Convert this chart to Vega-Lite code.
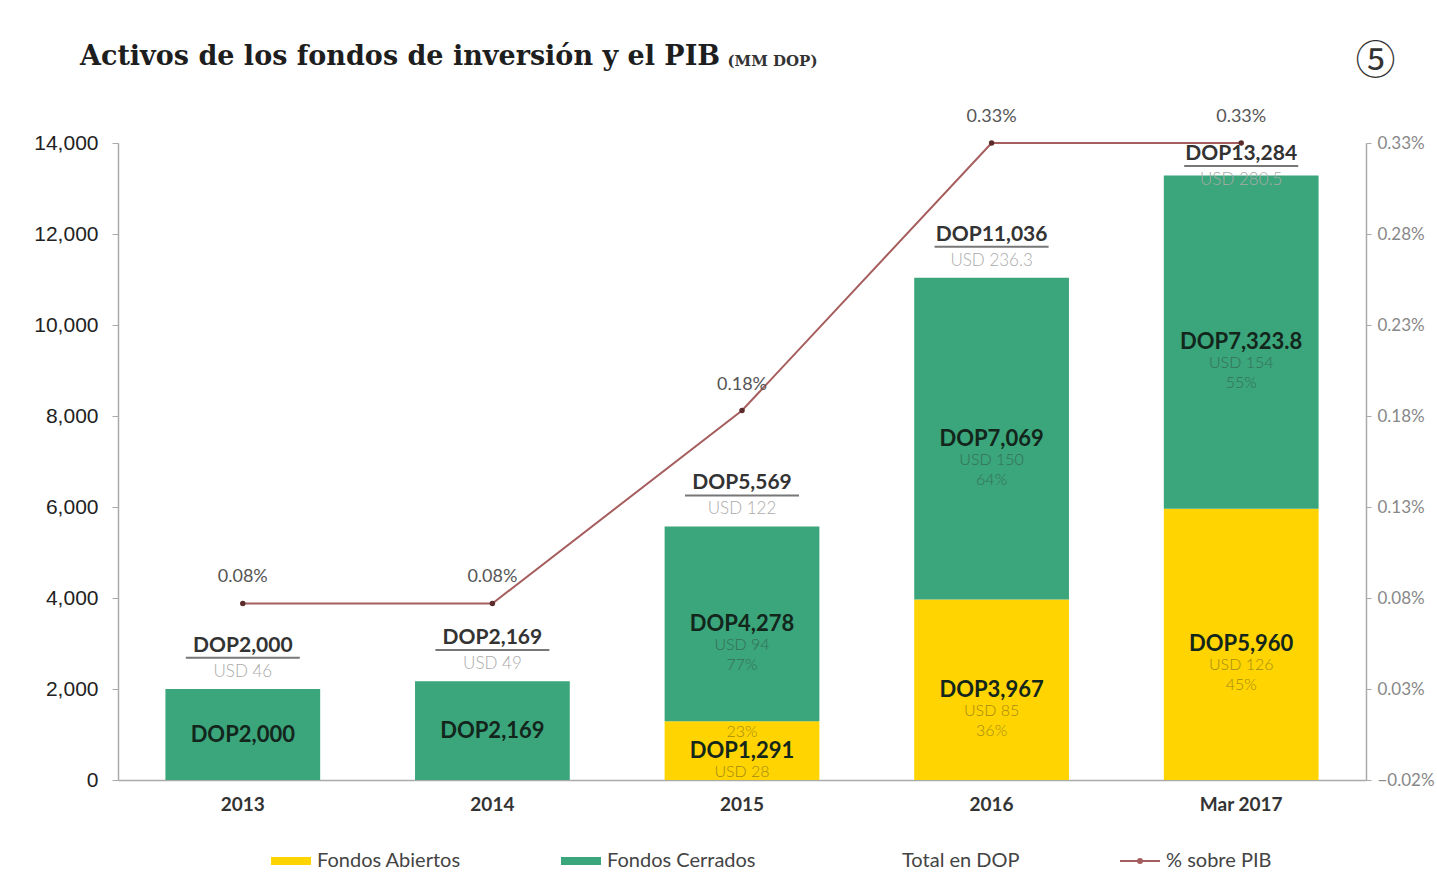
{
  "$schema": "https://vega.github.io/schema/vega-lite/v6.json",
  "width": 1248,
  "height": 637,
  "autosize": {"type": "none"},
  "padding": {"left": 118, "top": 143, "right": 71, "bottom": 108},
  "background": "white",
  "config": {"view": {"stroke": null}, "font": "Lato"},
  "title": {
    "text": "Activos de los fondos de inversión y el PIB",
    "font": "DejaVu Serif",
    "fontWeight": "bold",
    "fontSize": 27,
    "color": "#1e1e1e",
    "anchor": "start",
    "frame": "group",
    "dx": -38,
    "offset": -30
  },
  "datasets": {
    "segments": [
      {"year": "2013", "segment": "Fondos Cerrados", "value": 2000, "usd": null, "share": null},
      {"year": "2014", "segment": "Fondos Cerrados", "value": 2169, "usd": null, "share": null},
      {"year": "2015", "segment": "Fondos Abiertos", "value": 1291, "usd": 28, "share": 23},
      {"year": "2015", "segment": "Fondos Cerrados", "value": 4278, "usd": 94, "share": 77},
      {"year": "2016", "segment": "Fondos Abiertos", "value": 3967, "usd": 85, "share": 36},
      {"year": "2016", "segment": "Fondos Cerrados", "value": 7069, "usd": 150, "share": 64},
      {"year": "Mar 2017", "segment": "Fondos Abiertos", "value": 5960, "usd": 126, "share": 45},
      {"year": "Mar 2017", "segment": "Fondos Cerrados", "value": 7323.8, "usd": 154, "share": 55}
    ],
    "totals": [
      {"year": "2013", "total": 2000, "usd": "46", "pib": 0.077, "pibLabel": "0.08%"},
      {"year": "2014", "total": 2169, "usd": "49", "pib": 0.077, "pibLabel": "0.08%"},
      {"year": "2015", "total": 5569, "usd": "122", "pib": 0.183, "pibLabel": "0.18%"},
      {"year": "2016", "total": 11036, "usd": "236.3", "pib": 0.33, "pibLabel": "0.33%"},
      {"year": "Mar 2017", "total": 13284, "usd": "280.5", "pib": 0.33, "pibLabel": "0.33%"}
    ]
  },
  "encoding": {
    "x": {
      "field": "year",
      "type": "nominal",
      "scale": {"domain": ["2013", "2014", "2015", "2016", "Mar 2017"], "paddingInner": 0.38, "paddingOuter": 0.19},
      "axis": {
        "title": null,
        "labelAngle": 0,
        "labelFont": "Lato",
        "labelFontWeight": "bold",
        "labelFontSize": 19,
        "labelColor": "#333",
        "labelPadding": 15,
        "ticks": false,
        "domainColor": "#aaa",
        "domainWidth": 1.5
      }
    }
  },
  "layer": [
    {
      "layer": [
        {
          "data": {"name": "segments"},
          "transform": [
            {"stack": "value", "groupby": ["year"], "sort": [{"field": "segment", "order": "ascending"}], "as": ["v0", "v1"]}
          ],
          "mark": {"type": "bar"},
          "encoding": {
            "y": {
              "field": "v0",
              "type": "quantitative",
              "scale": {"domain": [0, 14000], "nice": false},
              "axis": {
                "values": [0, 2000, 4000, 6000, 8000, 10000, 12000, 14000],
                "labelExpr": "format(datum.value, ',')",
                "labelFont": "Liberation Sans",
                "labelFontSize": 21,
                "labelColor": "#222",
                "labelPadding": 14,
                "tickSize": 6,
                "tickColor": "#aaa",
                "domainColor": "#aaa",
                "domainWidth": 1.5,
                "grid": false,
                "title": "(MM DOP)",
                "titleAngle": 0,
                "titleX": 609,
                "titleY": -78,
                "titleAlign": "left",
                "titleBaseline": "alphabetic",
                "titleFont": "DejaVu Serif",
                "titleFontSize": 15,
                "titleFontWeight": "bold",
                "titleColor": "#333"
              }
            },
            "y2": {"field": "v1"},
            "color": {
              "field": "segment",
              "type": "nominal",
              "scale": {
                "domain": ["Fondos Abiertos", "Fondos Cerrados", "Total en DOP", "% sobre PIB"],
                "range": ["#FFD400", "#3BA57B", "#ffffff", "#a65d5d"]
              },
              "legend": {
                "title": null,
                "orient": "none",
                "legendX": 152,
                "legendY": 697,
                "direction": "horizontal",
                "columnPadding": 96,
                "symbolSize": 1600,
                "symbolType": "M-1,-0.2H1V0.2H-1Z",
                "labelFont": "Lato",
                "labelFontSize": 20,
                "labelColor": "#444",
                "labelOffset": 5,
                "encode": {
                  "symbols": {
                    "update": {
                      "shape": {"signal": "datum.value === '% sobre PIB' ? 'M-1,0H1M-0.1,0A0.1,0.1 0 1 0 0.1,0A0.1,0.1 0 1 0 -0.1,0' : 'M-1,-0.2H1V0.2H-1Z'"},
                      "fill": {"signal": "datum.value === 'Fondos Abiertos' ? '#FFD400' : datum.value === 'Fondos Cerrados' ? '#3BA57B' : 'transparent'"},
                      "stroke": {"signal": "datum.value === '% sobre PIB' ? '#a65d5d' : 'transparent'"},
                      "strokeWidth": {"value": 2},
                      "opacity": {"value": 1}
                    }
                  }
                }
              }
            }
          }
        },
        {
          "data": {"name": "segments"},
          "transform": [
            {"stack": "value", "groupby": ["year"], "sort": [{"field": "segment", "order": "ascending"}], "as": ["v0", "v1"]},
            {"calculate": "(datum.v0 + datum.v1) / 2", "as": "mid"},
            {"calculate": "'DOP' + format(datum.value, ',')", "as": "lab"}
          ],
          "mark": {"type": "text", "font": "Lato", "fontWeight": "bold", "fontSize": 22, "color": "#13261c", "baseline": "middle"},
          "encoding": {
            "y": {"field": "mid", "type": "quantitative"},
            "text": {"field": "lab"}
          }
        },
        {
          "data": {"name": "segments"},
          "transform": [
            {"stack": "value", "groupby": ["year"], "sort": [{"field": "segment", "order": "ascending"}], "as": ["v0", "v1"]},
            {"calculate": "(datum.v0 + datum.v1) / 2", "as": "mid"},
            {"filter": "datum.usd != null"},
            {"calculate": "'USD ' + datum.usd", "as": "lab"}
          ],
          "mark": {"type": "text", "font": "Lato", "fontWeight": 300, "fontSize": 16, "color": "#2f2f2f", "opacity": 0.45, "baseline": "middle", "dy": 21},
          "encoding": {
            "y": {"field": "mid", "type": "quantitative"},
            "text": {"field": "lab"}
          }
        },
        {
          "data": {"name": "segments"},
          "transform": [
            {"stack": "value", "groupby": ["year"], "sort": [{"field": "segment", "order": "ascending"}], "as": ["v0", "v1"]},
            {"calculate": "(datum.v0 + datum.v1) / 2", "as": "mid"},
            {"filter": "datum.share != null && datum.value >= 2000"},
            {"calculate": "datum.share + '%'", "as": "lab"}
          ],
          "mark": {"type": "text", "font": "Lato", "fontWeight": 300, "fontSize": 16, "color": "#2f2f2f", "opacity": 0.45, "baseline": "middle", "dy": 41},
          "encoding": {
            "y": {"field": "mid", "type": "quantitative"},
            "text": {"field": "lab"}
          }
        },
        {
          "data": {"name": "segments"},
          "transform": [
            {"stack": "value", "groupby": ["year"], "sort": [{"field": "segment", "order": "ascending"}], "as": ["v0", "v1"]},
            {"calculate": "(datum.v0 + datum.v1) / 2", "as": "mid"},
            {"filter": "datum.share != null && datum.value < 2000"},
            {"calculate": "datum.share + '%'", "as": "lab"}
          ],
          "mark": {"type": "text", "font": "Lato", "fontWeight": 300, "fontSize": 16, "color": "#2f2f2f", "opacity": 0.45, "baseline": "middle", "dy": -19},
          "encoding": {
            "y": {"field": "mid", "type": "quantitative"},
            "text": {"field": "lab"}
          }
        },
        {
          "data": {"name": "totals"},
          "transform": [
            {"calculate": "min(datum.total + 950, 13760)", "as": "ly"},
            {"calculate": "'DOP' + format(datum.total, ',')", "as": "lab"}
          ],
          "mark": {"type": "text", "font": "Lato", "fontWeight": "bold", "fontSize": 21, "color": "#333", "baseline": "middle"},
          "encoding": {
            "y": {"field": "ly", "type": "quantitative"},
            "text": {"field": "lab"}
          }
        },
        {
          "data": {"name": "totals"},
          "transform": [
            {"calculate": "min(datum.total + 950, 13760)", "as": "ly"}
          ],
          "mark": {"type": "tick", "color": "#777", "thickness": 2, "size": 114, "yOffset": 12, "opacity": 1},
          "encoding": {
            "y": {"field": "ly", "type": "quantitative"}
          }
        },
        {
          "data": {"name": "totals"},
          "transform": [
            {"calculate": "min(datum.total + 950, 13760)", "as": "ly"},
            {"calculate": "'USD ' + datum.usd", "as": "lab"}
          ],
          "mark": {"type": "text", "font": "Lato", "fontWeight": 300, "fontSize": 17, "color": "#aaa", "baseline": "middle", "dy": 26},
          "encoding": {
            "y": {"field": "ly", "type": "quantitative"},
            "text": {"field": "lab"}
          }
        }
      ]
    },
    {
      "data": {"name": "totals"},
      "layer": [
        {
          "mark": {"type": "line", "color": "#a65d5d", "strokeWidth": 2, "point": {"filled": true, "size": 30, "color": "#5c2b2b"}},
          "encoding": {
            "y": {
              "field": "pib",
              "type": "quantitative",
              "scale": {"domain": [-0.02, 0.33], "nice": false, "zero": false},
              "axis": {
                "orient": "right",
                "values": [-0.02, 0.03, 0.08, 0.13, 0.18, 0.23, 0.28, 0.33],
                "labelExpr": "format(datum.value, '.2f') + '%'",
                "labelFont": "Lato",
                "labelFontSize": 17,
                "labelColor": "#888",
                "labelPadding": 6,
                "tickSize": 5,
                "tickColor": "#aaa",
                "domainColor": "#aaa",
                "domainWidth": 1.5,
                "grid": false,
                "title": "⑤",
                "titleAngle": 0,
                "titleX": 9,
                "titleY": -82,
                "titleAlign": "center",
                "titleBaseline": "middle",
                "titleFont": "Noto Sans CJK JP",
                "titleFontSize": 40,
                "titleFontWeight": "normal",
                "titleColor": "#333"
              }
            }
          }
        },
        {
          "mark": {"type": "text", "font": "Lato", "fontSize": 18, "color": "#555", "baseline": "middle", "dy": -26},
          "encoding": {
            "y": {"field": "pib", "type": "quantitative"},
            "text": {"field": "pibLabel"}
          }
        }
      ]
    }
  ],
  "resolve": {"scale": {"y": "independent"}}
}
